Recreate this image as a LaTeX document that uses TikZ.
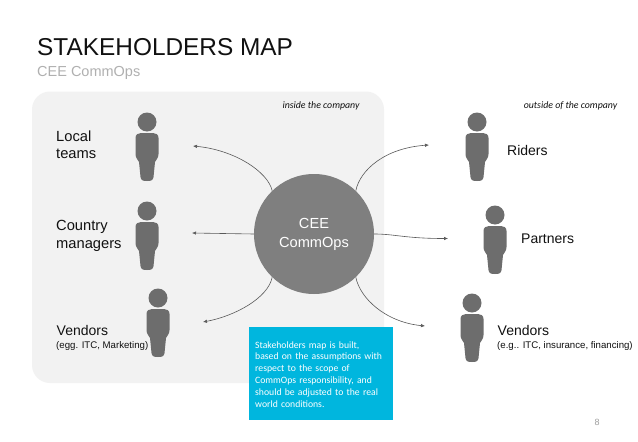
\documentclass[tikz,border=0pt]{standalone}
\usepackage{fontspec}
\setmainfont{Liberation Sans}
\newfontfamily\boxfont{Carlito}
\usetikzlibrary{arrows.meta}
\definecolor{panelgray}{HTML}{F2F2F2}
\definecolor{persongray}{HTML}{6D6D6D}
\definecolor{hubgray}{HTML}{7F7F7F}
\definecolor{notecyan}{HTML}{00B6DE}
\definecolor{titleblack}{HTML}{111111}
\definecolor{subgray}{HTML}{B0B0B0}
\definecolor{linkgray}{HTML}{595959}
\tikzset{
  x=1pt,y=-1pt,
  link/.style={draw=linkgray,line width=0.6pt,-{Latex[length=4pt,width=3.5pt]}},
  lbl/.style={anchor=base west,inner sep=0pt,font=\fontsize{14}{17}\selectfont,text=titleblack,align=left},
  lblwide/.style={lbl,font=\fontsize{14.7}{17}\selectfont},
  sublbl/.style={anchor=base west,inner sep=0pt,font=\fontsize{9.65}{11}\selectfont,text=titleblack},
  scopelbl/.style={anchor=base,inner sep=0pt,font=\boxfont\itshape\fontsize{9.85}{10}\selectfont,text=titleblack},
  pers/.pic={
    \fill[persongray] (0,0) circle (9.5);
    \fill[persongray] (-6,11) .. controls (-9,11) and (-11.5,12.5) .. (-11.5,16)
      -- (-11.5,32) .. controls (-11.5,36) and (-9,38) .. (-8,40)
      -- (-6.5,55) .. controls (-6,58.5) and (-4,59) .. (0,59)
      .. controls (4,59) and (6,58.5) .. (6.5,55)
      -- (8,40) .. controls (9,38) and (11.5,36) .. (11.5,32)
      -- (11.5,16) .. controls (11.5,12.5) and (9,11) .. (6,11) -- cycle;
  }
}
\begin{document}
\begin{tikzpicture}
\useasboundingbox (0,0) rectangle (638,442);
\fill[white] (0,0) rectangle (638,442);
\fill[panelgray,rounded corners=18pt] (32,91.5) rectangle (384,383);
\node[anchor=base west,inner sep=0pt,font=\fontsize{24.4}{28}\selectfont,text=titleblack] (title) at (37,55.5) {STAKEHOLDERS MAP};
\node[anchor=base west,inner sep=0pt,font=\fontsize{14.5}{17}\selectfont,text=subgray] (subtitle) at (37,76) {CEE CommOps};
\node[scopelbl] (inside) at (321,108) {inside the company};
\node[scopelbl] (outside) at (570.5,108) {outside of the company};
\pic at (147,122) {pers};
\pic at (147,211) {pers};
\pic at (158,298) {pers};
\pic at (477,122) {pers};
\pic at (495,215) {pers};
\pic at (472,303) {pers};
\node[lblwide] (l1a) at (56,141) {Local};
\node[lblwide] (l1b) at (56,158) {teams};
\node[lblwide] (l2a) at (56,230) {Country};
\node[lblwide] (l2b) at (56,248) {managers};
\node[lbl] (l3) at (56.5,335) {Vendors};
\node[sublbl] (l3s) at (56,348) {(egg. ITC, Marketing)};
\node[lbl] (r1) at (507,155) {Riders};
\node[lbl] (r2) at (521,243) {Partners};
\node[lbl] (r3) at (497.5,335) {Vendors};
\node[sublbl] (r3s) at (497,348) {(e.g.. ITC, insurance, financing)};
\node[circle,fill=hubgray,minimum size=120pt,inner sep=0pt,text=white,align=center,font=\fontsize{14.6}{19}\selectfont] (hub) at (314,234) {CEE\\CommOps};
\coordinate (e1) at (193,146);
\coordinate (e2) at (192,233);
\coordinate (e3) at (203,322);
\coordinate (e4) at (429,145);
\coordinate (e5) at (448,238.5);
\coordinate (e6) at (425,326);
\draw[link] (hub.134) .. controls (268,172) and (235,150) .. (e1);
\draw[link] (hub.180) -- (e2);
\draw[link] (hub.226) .. controls (268,298) and (235,316) .. (e3);
\draw[link] (hub.46) .. controls (360,170) and (385,148) .. (e4);
\draw[link] (hub.0) .. controls (395,234) and (405,238.5) .. (e5);
\draw[link] (hub.314) .. controls (360,298) and (385,322) .. (e6);
\node[fill=notecyan,text=white,anchor=north west,minimum width=144pt,minimum height=93pt,text width=132pt,inner xsep=6pt,inner ysep=5pt,align=left,font=\boxfont\fontsize{9.7}{11.9}\selectfont] (note) at (249,327) {\strut Stakeholders map is built,\\based on the assumptions with\\respect to the scope of\\CommOps responsibility, and\\should be adjusted to the real\\world conditions.};
\node[anchor=base,inner sep=0pt,font=\fontsize{9}{11}\selectfont,text=subgray!90!black] (page) at (597,425) {8};
\end{tikzpicture}
\end{document}
